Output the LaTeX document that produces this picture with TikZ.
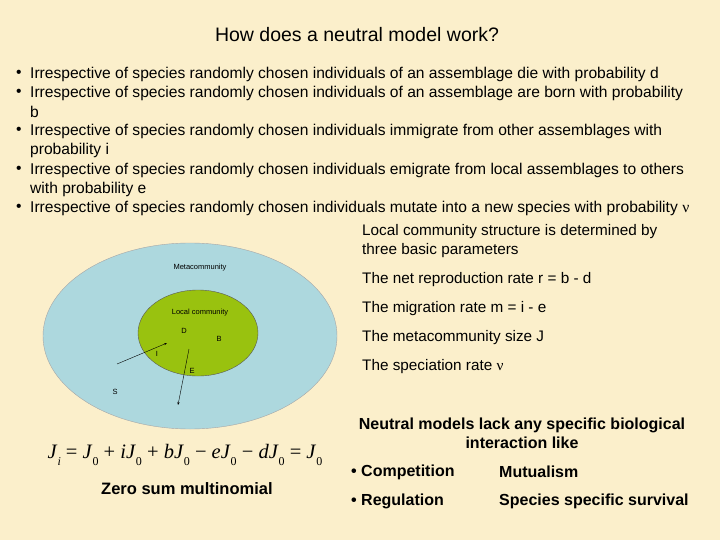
\documentclass[tikz,border=0pt]{standalone}
\usepackage{fontspec}
\usetikzlibrary{arrows.meta}
\setmainfont{Liberation Sans}
\newfontfamily\tms{Liberation Serif}
\newcommand{\nuch}{{\tms ν}}
\newcommand{\sbz}[1]{\raisebox{-0.3em}{\fontsize{12}{12}\selectfont #1}}
\begin{document}
\begin{tikzpicture}[x=1pt,y=-1pt,
 txt/.style={anchor=west,inner sep=0pt,font=\fontsize{15.6}{17}\selectfont},
 rtxt/.style={anchor=west,inner sep=0pt,font=\fontsize{15.3}{17}\selectfont},
 btxt/.style={anchor=west,inner sep=0pt,font=\bfseries\fontsize{16}{17}\selectfont},
 small/.style={inner sep=0pt,font=\fontsize{7.5}{9}\selectfont},
 arr/.style={-{Stealth[length=3pt]},thin}]
\fill[fill={rgb,255:red,251;green,239;blue,203}] (0,0) rectangle (720,540);
\useasboundingbox (0,0) rectangle (720,540);
\node[anchor=center,inner sep=0pt,font=\fontsize{19.5}{21}\selectfont] (title) at (357,35) {How does a neutral model work?};
\foreach \y/\t in {74/{Irrespective of species randomly chosen individuals of an assemblage die with probability d},
 93/{Irrespective of species randomly chosen individuals of an assemblage are born with probability},
 131/{Irrespective of species randomly chosen individuals immigrate from other assemblages with},
 170/{Irrespective of species randomly chosen individuals emigrate from local assemblages to others},
 208/{Irrespective of species randomly chosen individuals mutate into a new species with probability \nuch}}
 {\node[txt] at (16,\y) {\textbullet}; \node[txt] at (30,\y) {\t};}
\node[txt] (b1) at (30,112) {b};
\node[txt] (b2) at (30,150) {probability i};
\node[txt] (b3) at (30,189) {with probability e};
\node[rtxt] (r1) at (362,232) {Local community structure is determined by};
\node[rtxt] (r2) at (362,251) {three basic parameters};
\node[rtxt] (r3) at (362,280) {The net reproduction rate r = b - d};
\node[rtxt] (r4) at (362,309) {The migration rate m = i - e};
\node[rtxt] (r5) at (362,338) {The metacommunity size J};
\node[rtxt] (r6) at (362,367) {The speciation rate \nuch};
\node[inner sep=0pt,align=center,font=\bfseries\fontsize{16}{19}\selectfont] (nm) at (522,433) {Neutral models lack any specific biological\\interaction like};
\node[btxt] (c1) at (351,472) {\textbullet\ Competition};
\node[btxt] (c2) at (499,472) {Mutualism};
\node[btxt] (c3) at (351,501) {\textbullet\ Regulation};
\node[btxt] (c4) at (499,501) {Species specific survival};
\node[btxt,font=\bfseries\fontsize{16.5}{17}\selectfont] (zs) at (101,489) {Zero sum multinomial};
\node[inner sep=0pt,font=\tms\fontsize{20.5}{22}\selectfont] (eq) at (185,455) {\textit{J}\sbz{\textit{i}} = \textit{J}\sbz{0} + \textit{iJ}\sbz{0} + \textit{bJ}\sbz{0} − \textit{eJ}\sbz{0} − \textit{dJ}\sbz{0} = \textit{J}\sbz{0}};
\draw[fill={rgb,255:red,173;green,216;blue,222},draw=gray!70] (190,336) ellipse [x radius=147, y radius=93];
\draw[fill={rgb,255:red,153;green,194;blue,15},draw=gray!70!black] (198,333) ellipse [x radius=60, y radius=43];
\node[small] (meta) at (200,268) {Metacommunity};
\node[small] (loc) at (200,313) {Local community};
\node[small] (D) at (184,331) {D};
\node[small] (B) at (219,339) {B};
\node[small] (I) at (157,354) {I};
\node[small] (E) at (192,371) {E};
\node[small] (S) at (115,392) {S};
\coordinate (i0) at (117,364); \coordinate (i1) at (167,343);
\coordinate (e0) at (189,349); \coordinate (e1) at (178,405);
\draw[arr] (i0) -- (i1);
\draw[arr] (e0) -- (e1);
\end{tikzpicture}
\end{document}
